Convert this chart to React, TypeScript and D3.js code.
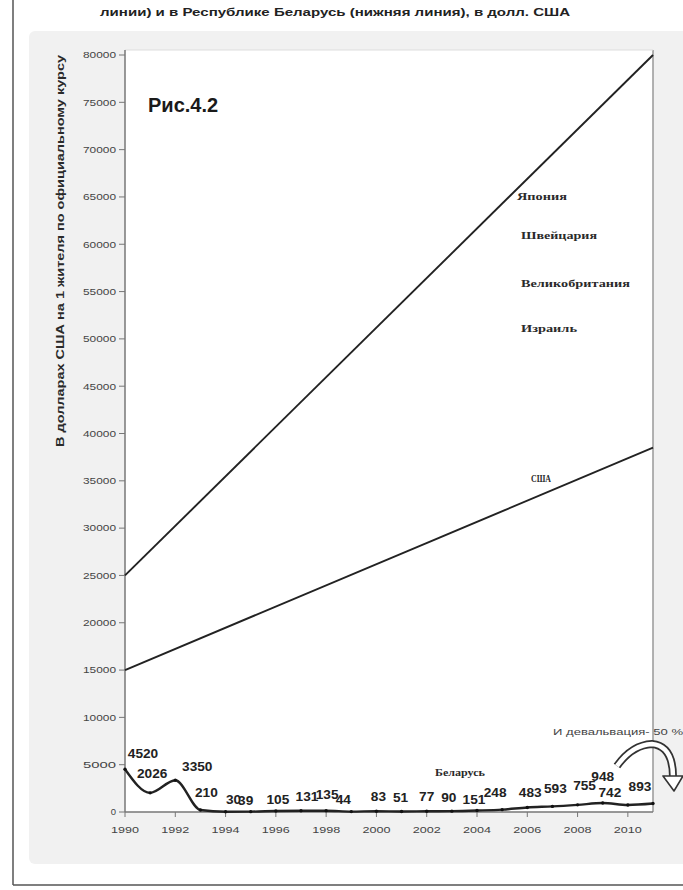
import React from 'react';
import * as d3 from 'd3';

// data
const belarusYears = [1990, 1991, 1992, 1993, 1994, 1995, 1996, 1997, 1998, 1999, 2000, 2001, 2002, 2003, 2004, 2005, 2006, 2007, 2008, 2009, 2010, 2011];
const belarusValues = [4520, 2026, 3350, 210, 30, 39, 105, 131, 135, 44, 83, 51, 77, 90, 151, 248, 483, 593, 755, 948, 742, 893];
const upperYears = [1990, 2011];
const upperValues = [25000, 80000];
const usaYears = [1990, 2011];
const usaValues = [15000, 38500];
const yTicks = [0, 5000, 10000, 15000, 20000, 25000, 30000, 35000, 40000, 45000, 50000, 55000, 60000, 65000, 70000, 75000, 80000];
const xTickLabels = [1990, 1992, 1994, 1996, 1998, 2000, 2002, 2004, 2006, 2008, 2010];
const upperNames = ['Япония', 'Швейцария', 'Великобритания', 'Израиль'];

// label placement (dx, dy from point)
const labelOffsets: [number, number][] = [
  [18, -11], [2, -15], [22, -9], [6, -13], [8, -8], [-5, -7], [2, -7], [6, -10], [1, -12], [-8, -8], [2, -10],
  [-1, -10], [0, -10], [-3, -9], [-3, -7], [-7, -13], [3, -10], [3, -13], [7, -15], [0, -22], [-18, -8], [-13, -13],
];

const W = 683;
const H = 890;
const plot = { left: 125, right: 653, top: 55, bottom: 812 };
const sans = '"Liberation Sans", Arial, sans-serif';
const serif = '"Liberation Serif", "Times New Roman", serif';

const App: React.FC = () => {
  const x = d3.scaleLinear().domain([1990, 2011]).range([plot.left, plot.right]);
  const y = d3.scaleLinear().domain([0, 80000]).range([plot.bottom, plot.top]);

  const straight = d3.line<[number, number]>().x((d) => x(d[0])).y((d) => y(d[1]));
  const smooth = d3
    .line<[number, number]>()
    .x((d) => x(d[0]))
    .y((d) => y(d[1]))
    .curve(d3.curveMonotoneX);

  const upperPts = upperYears.map((yr, i) => [yr, upperValues[i]] as [number, number]);
  const usaPts = usaYears.map((yr, i) => [yr, usaValues[i]] as [number, number]);
  const belPts = belarusYears.map((yr, i) => [yr, belarusValues[i]] as [number, number]);
  const allYears = d3.range(1990, 2012);

  return (
    <svg width={W} height={H} style={{ position: 'absolute', left: 0, top: 0, background: '#fff' }}>
      {/* page frame */}
      <line x1={13} y1={0} x2={13} y2={885} stroke="#555" strokeWidth={1.5} />
      <line x1={13} y1={885} x2={W} y2={885} stroke="#555" strokeWidth={1.5} />

      <text x={335} y={16} textAnchor="middle" fontFamily={sans} fontWeight="bold" fontSize={11.5} fill="#222"
        textLength={470} lengthAdjust="spacingAndGlyphs">
        линии) и в Республике Беларусь (нижняя линия), в долл. США
      </text>

      {/* chart area */}
      <rect x={29} y={31} width={W - 29 + 6} height={833} rx={6} fill="#f1f1f1" />
      <rect x={plot.left} y={plot.top - 5} width={plot.right - plot.left} height={plot.bottom - plot.top + 5} fill="#fff" />
      <line x1={plot.right} y1={plot.top - 5} x2={plot.right} y2={plot.bottom} stroke="#999" strokeWidth={1.5} />
      <line x1={plot.left} y1={plot.top - 5} x2={plot.right} y2={plot.top - 5} stroke="#ddd" strokeWidth={1} />

      {/* y axis */}
      <line x1={plot.left} y1={plot.top - 5} x2={plot.left} y2={plot.bottom} stroke="#777" strokeWidth={1.5} />
      {yTicks.map((t) => (
        <g key={t}>
          <line x1={plot.left - 6} x2={plot.left} y1={y(t)} y2={y(t)} stroke="#777" strokeWidth={1} />
          <text x={plot.left - 9} y={y(t)} dy="0.35em" textAnchor="end" fontFamily={sans} fontSize={9.5} fill="#444"
            textLength={t === 0 ? undefined : 33} lengthAdjust="spacingAndGlyphs">
            {t}
          </text>
        </g>
      ))}
      <text transform={`translate(64,${(plot.top + 447) / 2}) rotate(-90)`} textAnchor="middle" fontFamily={sans}
        fontWeight="bold" fontSize={10.5} fill="#2a2a2a" textLength={392} lengthAdjust="spacingAndGlyphs">
        В долларах США на 1 жителя по официальному курсу
      </text>

      {/* x axis */}
      <line x1={plot.left} y1={plot.bottom} x2={plot.right} y2={plot.bottom} stroke="#777" strokeWidth={1.5} />
      {allYears.map((yr) => (
        <line key={yr} x1={x(yr)} x2={x(yr)} y1={plot.bottom} y2={plot.bottom + (yr % 2 === 0 ? 5 : 0)} stroke="#777" strokeWidth={1} />
      ))}
      {xTickLabels.map((yr) => (
        <text key={yr} x={x(yr)} y={833} textAnchor="middle" fontFamily={sans} fontSize={9.5} fill="#444"
          textLength={28} lengthAdjust="spacingAndGlyphs">
          {yr}
        </text>
      ))}

      {/* lines */}
      <path d={straight(upperPts) ?? ''} fill="none" stroke="#222" strokeWidth={1.9} />
      <path d={straight(usaPts) ?? ''} fill="none" stroke="#222" strokeWidth={1.9} />
      <path d={smooth(belPts) ?? ''} fill="none" stroke="#222" strokeWidth={2.4} />
      {belPts.map((d) => (
        <circle key={d[0]} cx={x(d[0])} cy={y(d[1])} r={1.7} fill="#111" />
      ))}

      {/* data labels */}
      {belPts.map((d, i) => (
        <text key={`l${d[0]}`} x={x(d[0]) + labelOffsets[i][0]} y={y(d[1]) + labelOffsets[i][1]} textAnchor="middle"
          fontFamily={sans} fontWeight="bold" fontSize={12} fill="#222"
          textLength={String(d[1]).length * 7.6} lengthAdjust="spacingAndGlyphs">
          {d[1]}
        </text>
      ))}

      {/* annotations */}
      <text x={148} y={112} fontFamily={sans} fontWeight="bold" fontSize={20} fill="#1a1a1a">Рис.4.2</text>
      {upperNames.map((name, i) => (
        <text key={name} x={i === 0 ? 517 : 521} y={[200, 239, 287, 332][i]} fontFamily={serif} fontWeight="bold"
          fontSize={10.5} fill="#2a2a2a" textLength={[50, 76, 109, 56][i]} lengthAdjust="spacingAndGlyphs">
          {name}
        </text>
      ))}
      <text x={531} y={482} fontFamily={serif} fontWeight="bold" fontSize={10.5} fill="#2a2a2a" textLength={20}
        lengthAdjust="spacingAndGlyphs">США</text>
      <text x={435} y={776} fontFamily={serif} fontWeight="bold" fontSize={10.5} fill="#2a2a2a" textLength={50}
        lengthAdjust="spacingAndGlyphs">Беларусь</text>
      <text x={553} y={735} fontFamily={sans} fontSize={9} fill="#444" textLength={130}
        lengthAdjust="spacingAndGlyphs">И девальвация- 50 %</text>

      {/* curved arrow */}
      <path d="M617,766 Q632,745 652,744 Q673,746 673,777" fill="none" stroke="#333" strokeWidth={8} strokeLinecap="butt" />
      <path d="M617,766 Q632,745 652,744 Q673,746 673,777" fill="none" stroke="#fff" strokeWidth={4.5} />
      <path d="M663,776 L683,776 L674,791 Z" fill="#fff" stroke="#333" strokeWidth={1.6} strokeLinejoin="round" />
    </svg>
  );
};

export default App;
